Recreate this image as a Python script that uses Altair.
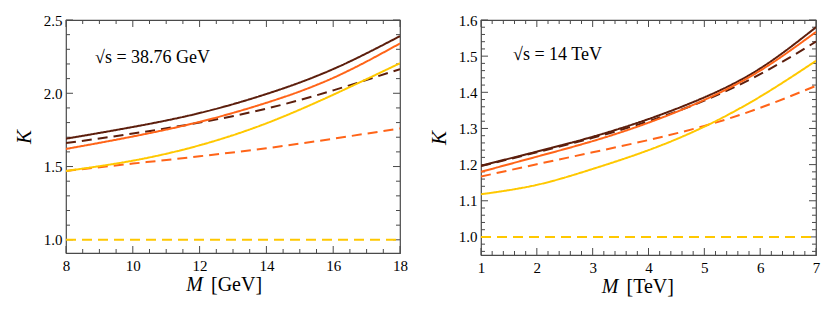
import altair as alt
import pandas as pd

# ---------------- data ----------------
# left panel: sqrt(s) = 38.76 GeV
L_M = [8, 10, 12, 14, 16, 18]
L_dark_solid = [1.69, 1.77, 1.865, 1.995, 2.165, 2.39]
L_dark_dashed = [1.66, 1.725, 1.80, 1.895, 2.02, 2.165]
L_orange_solid = [1.62, 1.705, 1.805, 1.935, 2.105, 2.34]
L_orange_dashed = [1.47, 1.52, 1.57, 1.625, 1.69, 1.76]
L_yellow_solid = [1.47, 1.54, 1.645, 1.795, 1.99, 2.205]
L_yellow_dashed = [1.0, 1.0, 1.0, 1.0, 1.0, 1.0]

# right panel: sqrt(s) = 14 TeV
R_M = [1, 2, 3, 4, 5, 6, 7]
R_dark_solid = [1.197, 1.236, 1.277, 1.326, 1.386, 1.466, 1.58]
R_dark_dashed = [1.196, 1.234, 1.274, 1.32, 1.377, 1.45, 1.54]
R_orange_solid = [1.18, 1.222, 1.265, 1.316, 1.379, 1.46, 1.567]
R_orange_dashed = [1.167, 1.201, 1.234, 1.268, 1.307, 1.357, 1.418]
R_yellow_solid = [1.118, 1.144, 1.188, 1.24, 1.305, 1.388, 1.487]
R_yellow_dashed = [1.0, 1.0, 1.0, 1.0, 1.0, 1.0, 1.0]

# tick marks
L_xmajor = [8, 10, 12, 14, 16, 18]
L_xminor = [8.5, 9, 9.5, 10.5, 11, 11.5, 12.5, 13, 13.5, 14.5, 15, 15.5, 16.5, 17, 17.5]
L_ymajor = [1.0, 1.5, 2.0, 2.5]
L_yminor = [1.1, 1.2, 1.3, 1.4, 1.6, 1.7, 1.8, 1.9, 2.1, 2.2, 2.3, 2.4]
R_xmajor = [1, 2, 3, 4, 5, 6, 7]
R_xminor = [x + f for x in range(1, 7) for f in (0.2, 0.4, 0.6, 0.8)]
R_ymajor = [1.0, 1.1, 1.2, 1.3, 1.4, 1.5, 1.6]
R_yminor = [0.96, 0.98, 1.02, 1.04, 1.06, 1.08, 1.12, 1.14, 1.16, 1.18, 1.22, 1.24, 1.26, 1.28,
            1.32, 1.34, 1.36, 1.38, 1.42, 1.44, 1.46, 1.48, 1.52, 1.54, 1.56, 1.58]

L_label = "√s = 38.76 GeV"
R_label = "√s = 14 TeV"

FAMILIES = ["dark", "orange", "yellow"]
COLORS = ["#5c1e0c", "#ff6418", "#ffc800"]
FRAME = "#4a4a4a"
FONT = "'Liberation Serif', 'Times New Roman', Times, 'DejaVu Serif', serif"


def long_df(M, curves):
    rows = []
    for (fam, sty), vals in curves.items():
        for m, k in zip(M, vals):
            rows.append({"M": m, "K": k, "family": fam, "style": sty, "series": fam + "_" + sty})
    return pd.DataFrame(rows)


def panel(M, curves, xdom, ydom, xmaj, xmin, ymaj, ymin, W, H, label, unit, lab_x, lab_y):
    df = long_df(M, curves)
    xs = alt.Scale(domain=xdom, nice=False, zero=False)
    ys = alt.Scale(domain=ydom, nice=False, zero=False)
    xax = alt.Axis(values=xmaj, ticks=False, domain=False, grid=False, labelFont=FONT,
                   labelFontSize=15, labelColor="black", labelPadding=5, labelFlush=False,
                   labelOverlap=False, format="d", title=None)
    yax = alt.Axis(values=ymaj, ticks=False, domain=False, grid=False, labelFont=FONT,
                   labelFontSize=15, labelColor="black", labelPadding=4, format=".1f",
                   labelOverlap=False, title="K", titleFont=FONT, titleFontSize=21,
                   titleFontStyle="italic", titleFontWeight="normal", titleColor="black",
                   titlePadding=9)
    lines = alt.Chart(df).mark_line(strokeWidth=2, interpolate="natural", clip=True).encode(
        x=alt.X("M:Q", scale=xs, axis=xax, title=None),
        y=alt.Y("K:Q", scale=ys, axis=yax, title="K"),
        color=alt.Color("family:N", scale=alt.Scale(domain=FAMILIES, range=COLORS), legend=None),
        strokeDash=alt.StrokeDash("style:N", scale=alt.Scale(domain=["solid", "dashed"], range=[[1, 0], [10, 6]]), legend=None),
        detail="series:N",
    )

    def xticks(vals, ln):
        d = pd.DataFrame({"v": vals})
        b = alt.Chart(d).mark_rule(color=FRAME, strokeWidth=1).encode(
            x=alt.X("v:Q", scale=xs, axis=xax, title=None), y=alt.value(H), y2=alt.value(H - ln))
        t = alt.Chart(d).mark_rule(color=FRAME, strokeWidth=1).encode(
            x=alt.X("v:Q", scale=xs, axis=xax, title=None), y=alt.value(0), y2=alt.value(ln))
        return [b, t]

    def yticks(vals, ln):
        d = pd.DataFrame({"v": vals})
        l = alt.Chart(d).mark_rule(color=FRAME, strokeWidth=1).encode(
            y=alt.Y("v:Q", scale=ys, axis=yax, title="K"), x=alt.value(0), x2=alt.value(ln))
        r = alt.Chart(d).mark_rule(color=FRAME, strokeWidth=1).encode(
            y=alt.Y("v:Q", scale=ys, axis=yax, title="K"), x=alt.value(W), x2=alt.value(W - ln))
        return [l, r]

    ticks = xticks(xmaj, 7) + xticks(xmin, 4) + yticks(ymaj, 7) + yticks(ymin, 4)

    ann = alt.Chart(pd.DataFrame({"t": [label]})).mark_text(
        font=FONT, fontSize=18, align="left", baseline="middle", color="black").encode(
        text="t:N", x=alt.value(lab_x), y=alt.value(lab_y))
    tm = alt.Chart(pd.DataFrame({"t": ["M"]})).mark_text(
        font=FONT, fontSize=20, fontStyle="italic", align="right", baseline="alphabetic", color="black").encode(
        text="t:N", x=alt.value(W / 2 - 30), y=alt.value(H + 38))
    tu = alt.Chart(pd.DataFrame({"t": ["[" + unit + "]"]})).mark_text(
        font=FONT, fontSize=20, align="left", baseline="alphabetic", color="black").encode(
        text="t:N", x=alt.value(W / 2 - 22), y=alt.value(H + 38))

    return alt.layer(*ticks, lines, ann, tm, tu).properties(width=W, height=H)


left = panel(
    L_M,
    {("dark", "solid"): L_dark_solid, ("dark", "dashed"): L_dark_dashed,
     ("orange", "solid"): L_orange_solid, ("orange", "dashed"): L_orange_dashed,
     ("yellow", "solid"): L_yellow_solid, ("yellow", "dashed"): L_yellow_dashed},
    [8, 18], [0.91, 2.5], L_xmajor, L_xminor, L_ymajor, L_yminor, 334, 233, L_label, "GeV", 29, 38)

right = panel(
    R_M,
    {("dark", "solid"): R_dark_solid, ("dark", "dashed"): R_dark_dashed,
     ("orange", "solid"): R_orange_solid, ("orange", "dashed"): R_orange_dashed,
     ("yellow", "solid"): R_yellow_solid, ("yellow", "dashed"): R_yellow_dashed},
    [1, 7], [0.95, 1.6], R_xmajor, R_xminor, R_ymajor, R_yminor, 335, 235, R_label, "TeV", 32, 35)

chart = alt.hconcat(left, right, spacing=18).resolve_scale(
    x="independent", y="independent", color="shared", strokeDash="shared"
).configure_view(stroke=FRAME, strokeWidth=1.2).properties(padding={"left": 4, "top": 4, "right": 0, "bottom": 0})

chart.save("out.html", embed_options={"renderer": "svg", "actions": False})
